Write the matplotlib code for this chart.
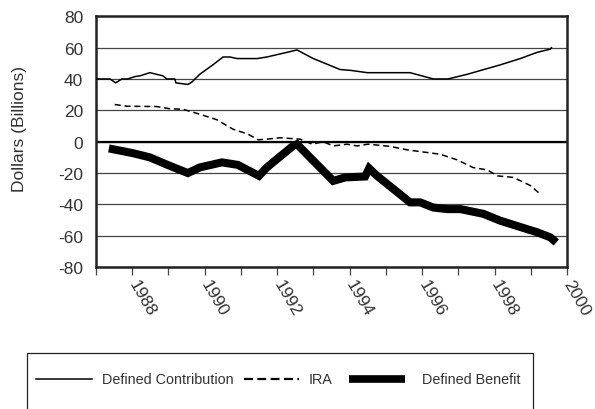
import matplotlib
matplotlib.use("Agg")
import matplotlib.pyplot as plt
from matplotlib.patches import Rectangle
from matplotlib.lines import Line2D

plt.rcParams['font.family'] = ['Liberation Sans', 'DejaVu Sans']

# Defined Contribution (thin solid)
dc_years = [1987.03, 1987.39, 1987.55, 1987.72, 1987.88, 1988.08, 1988.22, 1988.49,
            1988.85, 1988.96, 1989.18, 1989.21, 1989.54, 1989.65, 1989.87, 1990.23,
            1990.51, 1990.70, 1990.90, 1991.45, 1991.72, 1992.0, 1992.28, 1992.55,
            1993.0, 1993.74, 1994.02, 1994.49, 1995.67, 1996.31, 1996.72, 1997.25,
            1998.16, 1998.71, 1999.18, 1999.54, 1999.57]
dc_vals = [40, 40, 37.5, 40, 40, 41.5, 42, 44,
           42, 40, 40, 37.5, 36.5, 38, 43, 49,
           54, 54, 53, 53, 54, 55.5, 57, 58.5,
           53, 46, 45.5, 44, 44, 40, 40, 43,
           49, 53, 57, 59, 60]

# IRA (dashed)
ira_years = [1987.52, 1987.86, 1988.68, 1989.04, 1989.40, 1989.87, 1990.34, 1990.78,
             1991.20, 1991.48, 1991.72, 1992.08, 1992.64, 1992.97, 1993.27, 1993.55,
             1993.93, 1994.21, 1994.51, 1995.12, 1995.59, 1996.50, 1996.97, 1997.41,
             1997.80, 1998.08, 1998.52, 1998.99, 1999.29]
ira_vals = [23.7, 22.6, 22.4, 21, 20.7, 17.5, 14, 8,
            4.8, 1.2, 1.6, 2.5, 1.6, -1.6, 0, -2.7,
            -1.6, -2.7, -1.6, -3, -5.2, -8, -11.6, -16.5,
            -18, -21.8, -22.8, -28, -34]

# Defined Benefit (thick solid)
db_years = [1987.47, 1988.02, 1988.49, 1989.04, 1989.54, 1989.87, 1990.48, 1990.92,
            1991.50, 1991.72, 1992.44, 1992.55, 1993.55, 1993.88, 1994.43, 1994.54,
            1994.76, 1995.67, 1995.95, 1996.31, 1996.70, 1997.06, 1997.69, 1998.16,
            1999.18, 1999.54, 1999.62]
db_vals = [-4.8, -7.3, -10, -15.4, -20, -16.4, -13.2, -14.8,
           -21.8, -16.4, -2.7, -1.6, -25, -22.8, -22.2, -17,
           -21.8, -38.7, -38.7, -42, -43, -43, -46, -50.4,
           -57.8, -61, -62.6]

tick_years = list(range(1987, 2001))
label_years = [1988, 1990, 1992, 1994, 1996, 1998, 2000]
yticks = [-80, -60, -40, -20, 0, 20, 40, 60, 80]
txt = '#333333'

fig = plt.figure(figsize=(5.95, 4.10), dpi=100)
ax = fig.add_axes([0.161, 0.346, 0.792, 0.612])

for v in yticks:
    ax.axhline(v, color='#444444', lw=0.9, zorder=1)
ax.axhline(0, color='black', lw=1.6, zorder=1)

ax.plot(dc_years, dc_vals, color='black', lw=1.1, zorder=3)
ax.plot(ira_years, ira_vals, color='black', lw=1.1, ls=(0, (4, 2.5)), zorder=3)
ax.plot(db_years, db_vals, color='black', lw=5.8, solid_joinstyle='miter', zorder=3)

ax.set_xlim(1987, 2000)
ax.set_ylim(-80, 80)
ax.set_yticks(yticks)
ax.set_yticklabels([str(v) for v in yticks], fontsize=12.5, color=txt)
ax.tick_params(axis='y', length=0, pad=9)
ax.set_xticks(tick_years)
ax.set_xticklabels([str(y) if y in label_years else '' for y in tick_years],
                   rotation=-60, ha='left', va='center', rotation_mode='anchor',
                   fontsize=12.5, color=txt)
ax.tick_params(axis='x', length=6, width=0.9, color='#444444', pad=4)
for s in ax.spines.values():
    s.set_linewidth(1.8)
    s.set_color('#222222')

ax.set_ylabel('Dollars (Billions)', fontsize=12.5, color=txt)
ax.yaxis.set_label_coords(-0.146, 0.556)

# legend box, drawn in figure coordinates
W, H = 595.0, 410.0
fig.patches.append(Rectangle((27 / W, -0.1), (533 - 27) / W, 0.1 + (410 - 354) / H,
                             transform=fig.transFigure, fill=False,
                             ec='#222222', lw=0.9))
ly = 1 - 380 / H
fig.lines.append(Line2D([36 / W, 92 / W], [ly, ly], transform=fig.transFigure,
                        color='black', lw=1.1))
fig.text(102 / W, ly, 'Defined Contribution', fontsize=10.4, va='center', color=txt)
fig.lines.append(Line2D([244 / W, 299 / W], [ly, ly], transform=fig.transFigure,
                        color='black', lw=1.6, ls=(0, (4, 2))))
fig.text(309 / W, ly, 'IRA', fontsize=10.4, va='center', color=txt)
fig.lines.append(Line2D([349 / W, 405 / W], [ly, ly], transform=fig.transFigure,
                        color='black', lw=5.5, solid_capstyle='butt'))
fig.text(422 / W, ly, 'Defined Benefit', fontsize=10.4, va='center', color=txt)

fig.savefig('out.png', dpi=100)
